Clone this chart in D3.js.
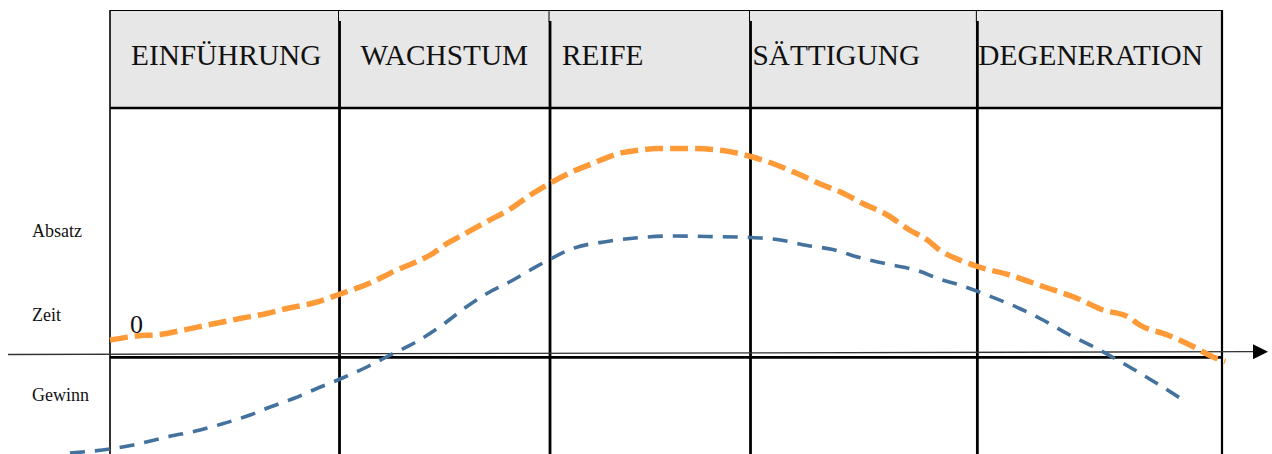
<!DOCTYPE html>
<html>
<head>
<meta charset="utf-8">
<script src="https://cdn.jsdelivr.net/npm/d3@7"></script>
<style>
  html, body { margin: 0; padding: 0; background: #fff; }
  svg { display: block; }
  text { font-family: "Liberation Serif", "Times New Roman", serif; fill: #111; }
</style>
</head>
<body>
<svg id="chart" width="1272" height="454"></svg>
<script>
// ---- data ----
const phases = ["EINFÜHRUNG", "WACHSTUM", "REIFE", "SÄTTIGUNG", "DEGENERATION"];
const phaseBounds = [0, 20.64, 39.57, 57.6, 78.0, 100];
const sideLabels = ["Absatz", "Zeit", "Gewinn"];
const zeroLabel = "0";

// Absatz (sales) curve: time, value
const absatzT = [0, 2.4, 4.5, 6.6, 9.0, 11.7, 14.1, 15.9, 18.3, 20.7, 23.4, 25.8, 27.2, 28.8, 30.3, 31.7, 33.9, 36.0, 37.8, 39.6, 41.6, 43.4, 45.6, 47.7, 49.2, 52.2, 55.1, 57.6, 59.6, 61.8, 64.1, 65.6, 67.7, 69.9, 71.9, 73.5, 74.6, 76.4, 78.0, 80.9, 83.9, 87.0, 89.3, 91.5, 92.6, 95.1, 97.4, 99.2, 100.3];
const absatzV = [14, 18, 19.5, 24, 29.5, 35.5, 40.5, 45.5, 51, 60, 71, 84, 90.5, 99, 110.5, 119, 132.5, 145, 159, 171, 182.5, 190.5, 200, 204, 205.5, 205.5, 203.5, 197.5, 190.5, 180.5, 169, 162.5, 150.5, 139, 124, 114, 104, 94, 87.5, 79, 67.5, 55.5, 44, 37.5, 29, 19, 7.5, -3, -7.5];

// Gewinn (profit) curve: time, value
const gewinnT = [-3.6, 0, 2.1, 5.1, 8.1, 10.2, 12.6, 14.4, 16.5, 18.6, 20.7, 23.1, 25.2, 27.6, 29.7, 32.1, 33.9, 36.0, 37.8, 39.6, 41.6, 44.7, 47.7, 50.6, 53.7, 57.6, 60.0, 62.7, 65.0, 67.4, 70.1, 72.6, 74.6, 76.4, 79.1, 81.8, 83.9, 86.3, 88.4, 90.6, 92.9, 95.1, 96.5];
const gewinnV = [-99, -95, -91, -83, -76, -69.5, -61, -53, -44.5, -34.5, -25, -13, -1, 12.5, 27.5, 47.5, 60.5, 72.5, 84, 95, 105.5, 112.5, 116.5, 118, 117.5, 116.5, 114.5, 108.5, 104.5, 96.5, 89.5, 83.5, 75, 69, 58, 45.5, 34, 19, 7.5, -6, -21, -36, -46];

// ---- layout ----
const svg = d3.select("#chart");
const x = d3.scaleLinear().domain([0, 100]).range([110, 1222]);
const y = d3.scaleLinear().domain([-100, 254]).range([454, 100]);

const tableTop = 10, headerBottom = 108, bottom = 454;

// header background
svg.append("rect")
  .attr("x", x(0)).attr("y", tableTop)
  .attr("width", x(100) - x(0)).attr("height", headerBottom - tableTop)
  .attr("fill", "#e7e7e7");

// top border
svg.append("line")
  .attr("x1", x(0)).attr("x2", x(100) + 1)
  .attr("y1", tableTop + 0.5).attr("y2", tableTop + 0.5)
  .attr("stroke", "#000").attr("stroke-width", 1.2);

// header bottom
svg.append("line")
  .attr("x1", x(0)).attr("x2", x(100) + 1)
  .attr("y1", headerBottom).attr("y2", headerBottom)
  .attr("stroke", "#000").attr("stroke-width", 2.5);

// outer left/right borders
svg.append("line")
  .attr("x1", x(0)).attr("x2", x(0))
  .attr("y1", tableTop).attr("y2", bottom)
  .attr("stroke", "#000").attr("stroke-width", 1.6);
svg.append("line")
  .attr("x1", x(100)).attr("x2", x(100))
  .attr("y1", tableTop).attr("y2", bottom)
  .attr("stroke", "#000").attr("stroke-width", 2.2);

// inner column dividers
const inner = phaseBounds.slice(1, -1);
svg.selectAll("line.divThin").data(inner).enter().append("line")
  .attr("class", "divThin")
  .attr("x1", d => x(d) - 1).attr("x2", d => x(d) - 1)
  .attr("y1", tableTop).attr("y2", 22)
  .attr("stroke", "#000").attr("stroke-width", 1);
svg.selectAll("line.div").data(inner).enter().append("line")
  .attr("class", "div")
  .attr("x1", d => x(d)).attr("x2", d => x(d))
  .attr("y1", 21).attr("y2", bottom)
  .attr("stroke", "#000").attr("stroke-width", 2.8);

// header labels
const labelOffsets = [21, 21, 12, 2, 1];
svg.selectAll("text.phase").data(phases).enter().append("text")
  .attr("class", "phase")
  .attr("x", (d, i) => x(phaseBounds[i]) + labelOffsets[i])
  .attr("y", 65)
  .attr("font-size", 29.3)
  .text(d => d);

// row border (thick) at zero level
svg.append("line")
  .attr("x1", x(0)).attr("x2", x(100))
  .attr("y1", y(0) + 3.3).attr("y2", y(0) + 3.3)
  .attr("stroke", "#000").attr("stroke-width", 2.8);

// time axis (thin) with arrow
svg.append("defs").append("marker")
  .attr("id", "arrow")
  .attr("viewBox", "0 0 10 10")
  .attr("refX", 0).attr("refY", 5)
  .attr("markerWidth", 15).attr("markerHeight", 15)
  .attr("markerUnits", "userSpaceOnUse")
  .attr("orient", "auto")
  .append("path").attr("d", "M0,0 L10,5 L0,10 Z").attr("fill", "#000");
svg.append("line")
  .attr("x1", 8).attr("x2", 1253)
  .attr("y1", y(0) + 0.5).attr("y2", y(0) - 2.3)
  .attr("stroke", "#333").attr("stroke-width", 1.3)
  .attr("marker-end", "url(#arrow)");

// side labels
const sideY = [117.5, 33.5, -47];
svg.selectAll("text.side").data(sideLabels).enter().append("text")
  .attr("class", "side")
  .attr("x", 32)
  .attr("y", (d, i) => y(sideY[i]))
  .attr("font-size", 18)
  .text(d => d);

// zero label
svg.append("text")
  .attr("x", 130).attr("y", y(21))
  .attr("font-size", 26)
  .text(zeroLabel);

// curves
const line = d3.line()
  .x(d => x(d[0]))
  .y(d => y(d[1]))
  .curve(d3.curveMonotoneX);

const gewinn = gewinnT.map((t, i) => [t, gewinnV[i]]);
const absatz = absatzT.map((t, i) => [t, absatzV[i]]);

svg.append("path")
  .datum(gewinn)
  .attr("d", line)
  .attr("fill", "none")
  .attr("stroke", "#44729e")
  .attr("stroke-width", 3.6)
  .attr("stroke-dasharray", "15,10");

svg.append("path")
  .datum(absatz)
  .attr("d", line)
  .attr("fill", "none")
  .attr("stroke", "#ff9a38")
  .attr("stroke-width", 5.5)
  .attr("stroke-dasharray", "18,7");
</script>
</body>
</html>
